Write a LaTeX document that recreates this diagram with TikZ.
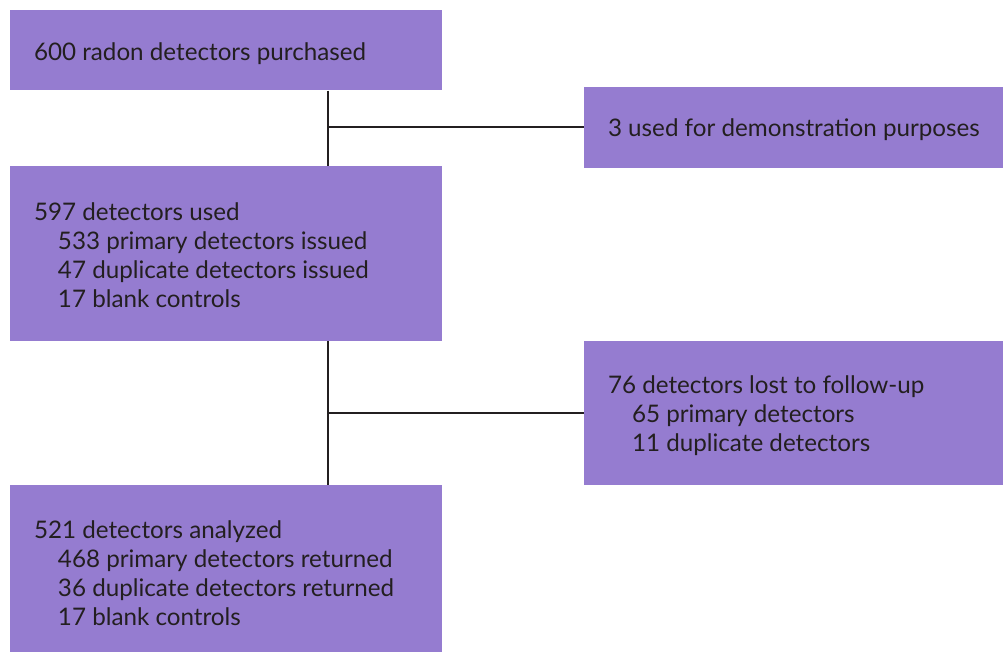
\documentclass[tikz,border=0pt]{standalone}
\usepackage{fontspec}
\setmainfont{Lato}
\definecolor{boxfill}{HTML}{957CD0}
\definecolor{ink}{HTML}{231F20}
\begin{document}
\begin{tikzpicture}[x=1pt,y=-1pt,
  flowbox/.style={fill=boxfill, draw=none, inner sep=0pt, anchor=center},
  boxtext/.style={inner sep=0pt, align=left, anchor=west, xshift=24pt,
    font=\fontsize{24.2}{29}\selectfont, text=ink},
  link/.style={draw=ink, line width=2pt}]
\useasboundingbox (0,0) rectangle (1003,652);
\newcommand{\ind}{\hspace*{24pt}}
\node[flowbox, minimum width=432pt, minimum height=80.5pt] (b1) at (226,50.25) {};
\node[flowbox, minimum width=419pt, minimum height=81pt] (b2) at (793.5,127.5) {};
\node[flowbox, minimum width=432pt, minimum height=175pt] (b3) at (226,253.5) {};
\node[flowbox, minimum width=419pt, minimum height=144pt] (b4) at (793.5,413) {};
\node[flowbox, minimum width=432pt, minimum height=167pt] (b5) at (226,568.5) {};
\node[boxtext, yshift=-3.5pt] (t1) at (b1.west) {600 radon detectors purchased};
\node[boxtext, yshift=-2.5pt] (t2) at (b2.west) {3 used for demonstration purposes};
\node[boxtext, yshift=-1.5pt] (t3) at (b3.west) {597 detectors used\\\ind 533 primary detectors issued\\\ind 47 duplicate detectors issued\\\ind 17 blank controls};
\node[boxtext, yshift=-3pt] (t4) at (b4.west) {76 detectors lost to follow-up\\\ind 65 primary detectors\\\ind 11 duplicate detectors};
\node[boxtext, yshift=-5pt] (t5) at (b5.west) {521 detectors analyzed\\\ind 468 primary detectors returned\\\ind 36 duplicate detectors returned\\\ind 17 blank controls};
\coordinate (j1) at (328,127.5);
\coordinate (j2) at (328,413);
\draw[link] (j1 |- b1.south) -- (j1 |- b3.north);
\draw[link] (j1) -- (b2.west);
\draw[link] (j2 |- b3.south) -- (j2 |- b5.north);
\draw[link] (j2) -- (b4.west);
\end{tikzpicture}
\end{document}
